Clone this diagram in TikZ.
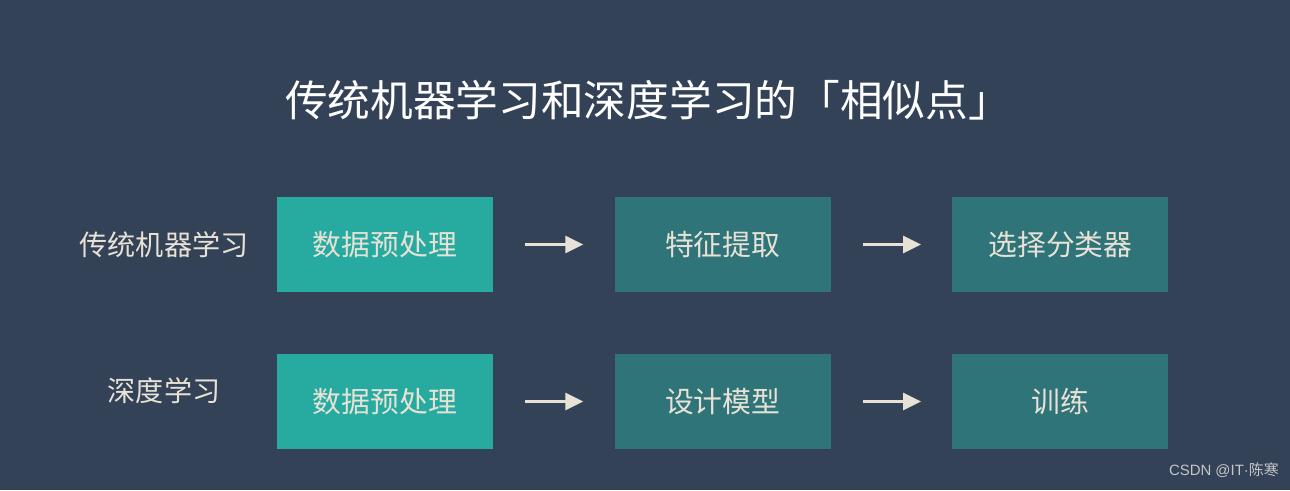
\documentclass[tikz,border=0pt]{standalone}
\usepackage{fontspec}
\setmainfont{Noto Sans CJK SC}
\newfontfamily\latinmark{Liberation Sans}
\usetikzlibrary{positioning,arrows.meta}
\definecolor{bgslate}{HTML}{344258}
\definecolor{tealA}{HTML}{27ABA0}
\definecolor{tealB}{HTML}{2E7479}
\definecolor{creamtxt}{HTML}{E8E2D6}
\tikzset{
  stepbox/.style={minimum width=4.32cm, minimum height=1.9cm, inner sep=0pt,
    text=creamtxt, font=\fontsize{16.4}{19}\selectfont},
  rowlabel/.style={text=creamtxt, font=\fontsize{16}{19}\selectfont},
  flow/.style={draw=creamtxt, line width=1.7pt, -{Triangle[length=0.36cm,width=0.34cm]}}
}
\begin{document}
\begin{tikzpicture}
\fill[bgslate] (0,0) rectangle (25.8,-9.8);
\useasboundingbox (0,0) rectangle (25.8,-9.8);
\node[text=white, font=\fontsize{24.3}{28}\selectfont] (title) at (12.96,-2.0) {传统机器学习和深度学习的「相似点」};
% traditional machine learning
\node[rowlabel] (lblml) at (3.28,-4.89) {传统机器学习};
\node[stepbox, fill=tealA] (mlprep) at (7.7,-4.89) {数据预处理};
\node[stepbox, fill=tealB, right=2.42cm of mlprep] (mlfeat) {特征提取};
\node[stepbox, fill=tealB, right=2.42cm of mlfeat] (mlclass) {选择分类器};
\draw[flow] ([xshift=0.64cm]mlprep.east) -- ([xshift=-0.62cm]mlfeat.west);
\draw[flow] ([xshift=0.64cm]mlfeat.east) -- ([xshift=-0.62cm]mlclass.west);
% deep learning
\node[rowlabel] (lbldl) at (3.28,-7.82) {深度学习};
\node[stepbox, fill=tealA] (dlprep) at (7.7,-8.03) {数据预处理};
\node[stepbox, fill=tealB, right=2.42cm of dlprep] (dlmodel) {设计模型};
\node[stepbox, fill=tealB, right=2.42cm of dlmodel] (dltrain) {训练};
\draw[flow] ([xshift=0.64cm]dlprep.east) -- ([xshift=-0.62cm]dlmodel.west);
\draw[flow] ([xshift=0.64cm]dlmodel.east) -- ([xshift=-0.62cm]dltrain.west);
\node[anchor=east, text=gray!45, font=\fontsize{8.5}{10}\selectfont] (mark) at (25.7,-9.4) {{\latinmark CSDN @IT·}陈寒};
\end{tikzpicture}
\end{document}
